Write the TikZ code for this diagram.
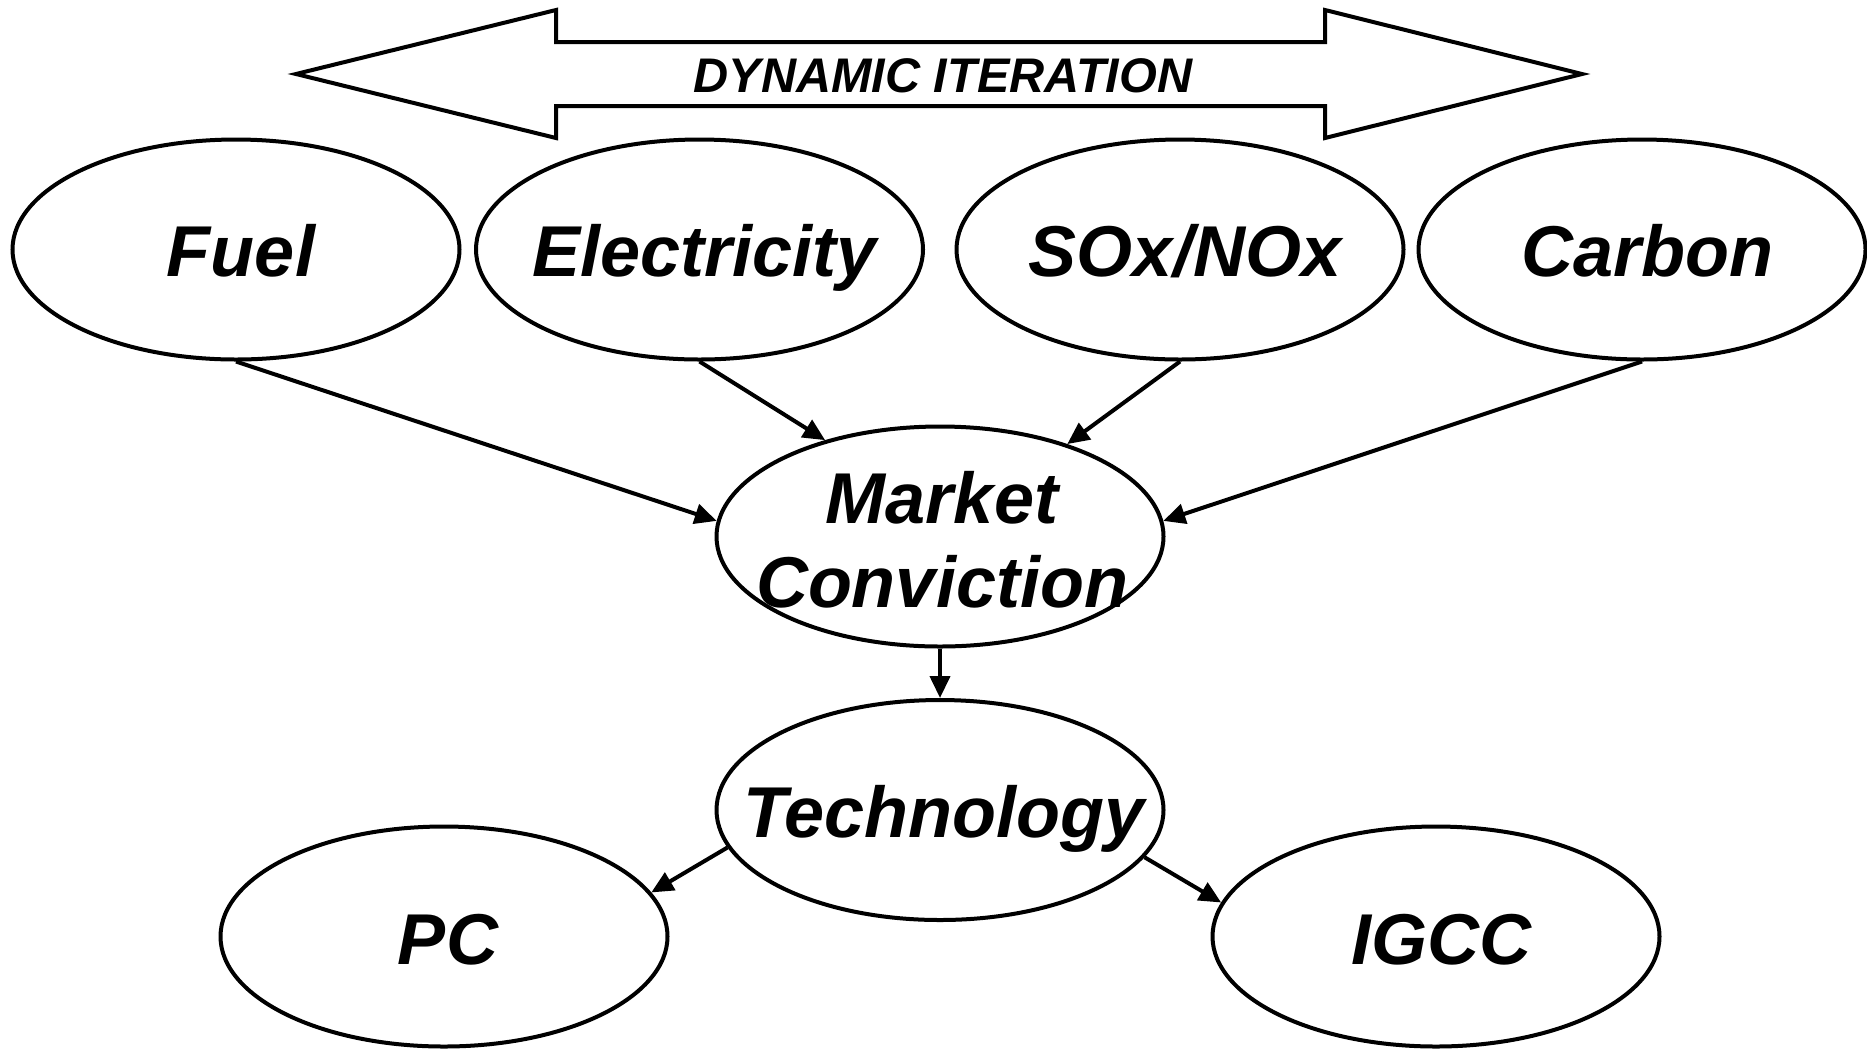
\documentclass[tikz,border=0pt]{standalone}
\usepackage{fontspec}
\setmainfont{Liberation Sans}
\usetikzlibrary{shapes.geometric,arrows.meta,calc}
\begin{document}
\begin{tikzpicture}[x=0.5pt,y=-0.5pt,
  el/.style={ellipse,draw,line width=2pt,minimum width=223.5pt,minimum height=110pt,inner sep=0pt},
  txt/.style={font=\fontsize{36pt}{42pt}\selectfont\bfseries\itshape,inner sep=0pt,align=center},
  conn/.style={line width=2pt,-{Triangle[length=11pt,width=10pt]}},
  bigarrow/.style={draw,line width=2pt,fill=white}]
\useasboundingbox (0,0) rectangle (1867,1051);
% double arrow
\draw[bigarrow] (296,74) -- (556,10) -- (556,42) -- (1325,42) -- (1325,10) -- (1582,74)
  -- (1325,138) -- (1325,106) -- (556,106) -- (556,138) -- cycle;
\node[font=\fontsize{24.3pt}{28pt}\selectfont\bfseries\itshape,inner sep=0pt] (dyn) at (943,76) {DYNAMIC ITERATION};
% ellipses
\node[el] (fuel) at (236,249.5) {};
\node[el] (elec) at (699.5,249.5) {};
\node[el] (sox)  at (1180,249.5) {};
\node[el] (carb) at (1642,249.5) {};
\node[el] (mkt)  at (940,536.5) {};
\node[el] (tech) at (940,810) {};
\node[el] (pc)   at (444,936.5) {};
\node[el] (igcc) at (1436,936.5) {};
% texts
\node[txt,anchor=base] (fuelT) at ($(fuel)+(5,27)$) {Fuel};
\node[txt,anchor=base] (elecT) at ($(elec)+(5,27)$) {Electricity};
\node[txt,anchor=base] (soxT)  at ($(sox)+(5,27)$)  {SOx/NOx};
\node[txt,anchor=base] (carbT) at ($(carb)+(5,27)$) {Carbon};
\node[txt] (mktT)  at ($(mkt)+(2,3)$)  {Market\\Conviction};
\node[txt,anchor=base] (techT) at ($(tech)+(4,27)$) {Technology};
\node[txt,anchor=base] (pcT)   at ($(pc)+(4,28)$)   {PC};
\node[txt,anchor=base] (igccT) at ($(igcc)+(5,28)$) {IGCC};
% connectors
\draw[conn] (fuel.south) -- (mkt.176);
\draw[conn] (elec.south) -- (mkt.140);
\draw[conn] (sox.south) -- (mkt.36);
\draw[conn] (carb.south) -- (mkt.4);
\draw[conn] (mkt.south) -- (tech.north);
\draw[conn] (tech.190) -- (pc.12);
\draw[conn] (tech.347) -- (igcc.171);
\end{tikzpicture}
\end{document}
